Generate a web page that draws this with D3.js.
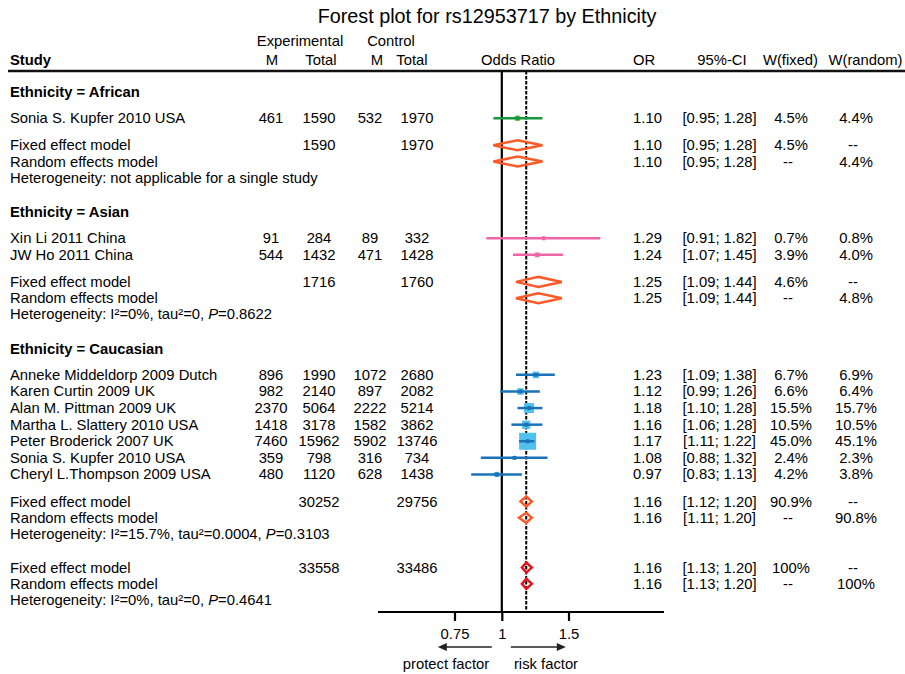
<!DOCTYPE html>
<html>
<head>
<meta charset="utf-8">
<script src="https://cdn.jsdelivr.net/npm/d3@7"></script>
<style>
  body { margin: 0; background: #fff; }
  svg { font-family: "Liberation Sans", Arial, sans-serif; font-size: 14.8px; }
</style>
</head>
<body>
<script>
// ---- data ----
const groups = ['African', 'Asian', 'Caucasian'];
const studies = ['Sonia S. Kupfer 2010 USA', 'Xin Li 2011 China', 'JW Ho 2011 China',
  'Anneke Middeldorp 2009 Dutch', 'Karen Curtin 2009 UK', 'Alan M. Pittman 2009 UK',
  'Martha L. Slattery 2010 USA', 'Peter Broderick 2007 UK', 'Sonia S. Kupfer 2010 USA',
  'Cheryl L.Thompson 2009 USA'];
const studyGroup = [0, 1, 1, 2, 2, 2, 2, 2, 2, 2];
const expM = [461, 91, 544, 896, 982, 2370, 1418, 7460, 359, 480];
const expTotal = [1590, 284, 1432, 1990, 2140, 5064, 3178, 15962, 798, 1120];
const ctrlM = [532, 89, 471, 1072, 897, 2222, 1582, 5902, 316, 628];
const ctrlTotal = [1970, 332, 1428, 2680, 2082, 5214, 3862, 13746, 734, 1438];
const oddsRatio = [1.10, 1.29, 1.24, 1.23, 1.12, 1.18, 1.16, 1.17, 1.08, 0.97];
const ciLower = [0.95, 0.91, 1.07, 1.09, 0.99, 1.10, 1.06, 1.11, 0.88, 0.83];
const ciUpper = [1.28, 1.82, 1.45, 1.38, 1.26, 1.28, 1.28, 1.22, 1.32, 1.13];
const wFixed = [4.5, 0.7, 3.9, 6.7, 6.6, 15.5, 10.5, 45.0, 2.4, 4.2];
const wRandom = [4.4, 0.8, 4.0, 6.9, 6.4, 15.7, 10.5, 45.1, 2.3, 3.8];

// summaries: one per subgroup, last one is the overall model
const fixedOR = [1.10, 1.25, 1.16, 1.16];
const fixedLower = [0.95, 1.09, 1.12, 1.13];
const fixedUpper = [1.28, 1.44, 1.20, 1.20];
const randomOR = [1.10, 1.25, 1.16, 1.16];
const randomLower = [0.95, 1.09, 1.11, 1.13];
const randomUpper = [1.28, 1.44, 1.20, 1.20];
const fixedWeight = [4.5, 4.6, 90.9, 100];
const randomWeight = [4.4, 4.8, 90.8, 100];
const hetI2 = [null, '0%', '15.7%', '0%'];
const hetTau2 = [null, '0', '0.0004', '0'];
const hetP = [null, '0.8622', '0.3103', '0.4641'];

const axisTicks = [0.75, 1, 1.5];

// ---- layout ----
const width = 905, height = 674;
const lineColor = ['#17973f', '#ef66a6', '#1a72b9'];
const boxColor = ['#8dd04a', '#f48fc2', '#50c0ee'];
const diamondColor = '#fa5a28', overallColor = '#e4141c';

const col = { study: 10, expM: 271, expTotal: 319, ctrlM: 370, ctrlTotal: 417,
  or: 647.5, ci: 719.5, wf: 791, wr: 856 };

const svg = d3.select('body').append('svg')
  .attr('width', width)
  .attr('height', height);

const x = d3.scaleLog().domain([0.75, 1.5]).range([454.5, 568.5]);
const plotLeft = 378, plotRight = 664, axisY = 612, headerLineY = 71;

// build the list of rows
const rows = [];
groups.forEach((g, gi) => {
  rows.push({ type: 'heading', text: 'Ethnicity = ' + g });
  studies.forEach((s, i) => { if (studyGroup[i] === gi) rows.push({ type: 'study', i }); });
  rows.push({ type: 'fixed', k: gi }, { type: 'random', k: gi }, { type: 'het', k: gi });
});
rows.push({ type: 'fixed', k: 3 }, { type: 'random', k: 3 }, { type: 'het', k: 3 });

// vertical spacing in "lines"
const gap = {
  heading: { study: 1.58 },
  study: { study: 1, fixed: 1.63 },
  fixed: { random: 0.98 },
  random: { het: 0.97 },
  het: { heading: 2.07, fixed: 2.03 }
};
let pos = 0;
rows.forEach((r, j) => {
  if (j > 0) pos += gap[rows[j - 1].type][r.type];
  r.line = pos;
});
const y = d3.scaleLinear().domain([0, 1]).range([92, 108.6]);

// title
svg.append('text')
  .attr('x', 487).attr('y', 23)
  .attr('text-anchor', 'middle')
  .style('font-size', '19.8px')
  .text('Forest plot for rs12953717 by Ethnicity');

// header
const header = svg.append('g');
const addHead = (txt, xx, yy, anchor, bold) => header.append('text')
  .attr('x', xx).attr('y', yy)
  .attr('text-anchor', anchor)
  .style('font-weight', bold ? 'bold' : 'normal')
  .text(txt);
addHead('Experimental', 300, 46, 'middle');
addHead('Control', 391, 46, 'middle');
addHead('Study', 10, 65, 'start', true);
addHead('M', 272, 65, 'middle');
addHead('Total', 321, 65, 'middle');
addHead('M', 377, 65, 'middle');
addHead('Total', 412, 65, 'middle');
addHead('Odds Ratio', 518, 65, 'middle');
addHead('OR', 633, 65, 'start');
addHead('95%-CI', 722, 65, 'middle');
addHead('W(fixed)', 790.5, 65, 'middle');
addHead('W(random)', 865.5, 65, 'middle');

svg.append('line')
  .attr('x1', 8).attr('x2', width)
  .attr('y1', headerLineY).attr('y2', headerLineY)
  .attr('stroke', '#111').attr('stroke-width', 2.5);

// reference lines
svg.append('line')
  .attr('x1', x(1)).attr('x2', x(1))
  .attr('y1', headerLineY).attr('y2', axisY)
  .attr('stroke', '#000').attr('stroke-width', 2.2);
svg.append('line')
  .attr('x1', x(fixedOR[3])).attr('x2', x(fixedOR[3]))
  .attr('y1', headerLineY).attr('y2', axisY)
  .attr('stroke', '#000').attr('stroke-width', 2)
  .attr('stroke-dasharray', '3.5,1.5');

// table text
const f2 = d3.format('.2f');
const ciText = (lo, hi) => `[${f2(lo)}; ${f2(hi)}]`;
const wText = w => w === 100 ? '100%' : d3.format('.1f')(w) + '%';

const cell = (txt, xx, yy, anchor) => svg.append('text')
  .attr('x', xx).attr('y', yy + 5)
  .attr('text-anchor', anchor || 'middle')
  .text(txt);

const inGroup = k => studies.map((s, i) => i).filter(i => k === 3 || studyGroup[i] === k);

rows.forEach(r => {
  const yy = y(r.line);
  if (r.type === 'heading') {
    cell(r.text, col.study, yy, 'start').style('font-weight', 'bold');
  } else if (r.type === 'study') {
    const i = r.i;
    cell(studies[i], col.study, yy, 'start');
    cell(expM[i], col.expM, yy);
    cell(expTotal[i], col.expTotal, yy);
    cell(ctrlM[i], col.ctrlM, yy);
    cell(ctrlTotal[i], col.ctrlTotal, yy);
    cell(f2(oddsRatio[i]), col.or, yy);
    cell(ciText(ciLower[i], ciUpper[i]), col.ci, yy);
    cell(wText(wFixed[i]), col.wf, yy);
    cell(wText(wRandom[i]), col.wr, yy);
  } else if (r.type === 'fixed') {
    const idx = inGroup(r.k);
    cell('Fixed effect model', col.study, yy, 'start');
    cell(d3.sum(idx, i => expTotal[i]), col.expTotal, yy);
    cell(d3.sum(idx, i => ctrlTotal[i]), col.ctrlTotal, yy);
    cell(f2(fixedOR[r.k]), col.or, yy);
    cell(ciText(fixedLower[r.k], fixedUpper[r.k]), col.ci, yy);
    cell(wText(fixedWeight[r.k]), col.wf, yy);
    cell('--', col.wr - 3, yy);
  } else if (r.type === 'random') {
    cell('Random effects model', col.study, yy, 'start');
    cell(f2(randomOR[r.k]), col.or, yy);
    cell(ciText(randomLower[r.k], randomUpper[r.k]), col.ci, yy);
    cell('--', col.wf - 3, yy);
    cell(wText(randomWeight[r.k]), col.wr, yy);
  } else if (r.type === 'het') {
    const t = cell('', col.study, yy, 'start');
    if (hetI2[r.k] === null) {
      t.text('Heterogeneity: not applicable for a single study');
    } else {
      t.append('tspan').text(`Heterogeneity: I\u00b2=${hetI2[r.k]}, tau\u00b2=${hetTau2[r.k]}, `);
      t.append('tspan').style('font-style', 'italic').text('P');
      t.append('tspan').text('=' + hetP[r.k]);
    }
  }
});

// study marks: box sized by weight, then CI line, then centre point
const boxSize = d3.scaleSqrt().domain([0, 45]).range([0, 17]);
const studyRows = rows.filter(r => r.type === 'study');

svg.append('g').selectAll('rect')
  .data(studyRows)
  .join('rect')
  .attr('x', r => x(oddsRatio[r.i]) - boxSize(wFixed[r.i]) / 2)
  .attr('y', r => y(r.line) - boxSize(wFixed[r.i]) / 2)
  .attr('width', r => boxSize(wFixed[r.i]))
  .attr('height', r => boxSize(wFixed[r.i]))
  .attr('fill', r => boxColor[studyGroup[r.i]]);

svg.append('g').selectAll('line')
  .data(studyRows)
  .join('line')
  .attr('x1', r => x(ciLower[r.i]))
  .attr('x2', r => x(ciUpper[r.i]))
  .attr('y1', r => y(r.line))
  .attr('y2', r => y(r.line))
  .attr('stroke', r => lineColor[studyGroup[r.i]])
  .attr('stroke-width', 2.5);

svg.append('g').selectAll('circle')
  .data(studyRows)
  .join('circle')
  .attr('cx', r => x(oddsRatio[r.i]))
  .attr('cy', r => y(r.line))
  .attr('r', 2.2)
  .attr('fill', r => lineColor[studyGroup[r.i]]);

// summary diamonds
const diamondRows = rows.filter(r => r.type === 'fixed' || r.type === 'random');
svg.append('g').selectAll('path')
  .data(diamondRows)
  .join('path')
  .attr('d', r => {
    const est = r.type === 'fixed' ? fixedOR[r.k] : randomOR[r.k];
    const lo = r.type === 'fixed' ? fixedLower[r.k] : randomLower[r.k];
    const hi = r.type === 'fixed' ? fixedUpper[r.k] : randomUpper[r.k];
    const yy = y(r.line), h = 5;
    return `M${x(lo)},${yy}L${x(est)},${yy - h}L${x(hi)},${yy}L${x(est)},${yy + h}Z`;
  })
  .attr('fill', 'none')
  .attr('stroke', r => r.k === 3 ? overallColor : diamondColor)
  .attr('stroke-width', 2.5)
  .attr('stroke-linejoin', 'miter');

// axis
svg.append('line')
  .attr('x1', plotLeft).attr('x2', plotRight)
  .attr('y1', axisY).attr('y2', axisY)
  .attr('stroke', '#000').attr('stroke-width', 2.2);

const axis = svg.append('g')
  .attr('transform', `translate(0,${axisY})`)
  .call(d3.axisBottom(x).tickValues(axisTicks).tickFormat(d => String(d)).tickSize(9).tickSizeOuter(0));
axis.select('.domain').remove();
axis.selectAll('.tick line').attr('stroke', '#000').attr('stroke-width', 2.2);
axis.selectAll('.tick text')
  .attr('y', 16)
  .style('font-size', '14.8px')
  .style('font-family', '"Liberation Sans", Arial, sans-serif')
  .attr('fill', '#000');

// direction arrows
const arrowY = 647;
const arrow = (x1, x2) => {
  const dir = Math.sign(x2 - x1);
  svg.append('line')
    .attr('x1', x1).attr('x2', x2 - dir * 6)
    .attr('y1', arrowY).attr('y2', arrowY)
    .attr('stroke', '#222').attr('stroke-width', 1.3);
  svg.append('path')
    .attr('d', `M${x2},${arrowY}L${x2 - dir * 9},${arrowY - 4}L${x2 - dir * 9},${arrowY + 4}Z`)
    .attr('fill', '#222');
};
arrow(x(1) - 10, x(1) - 64);
arrow(x(1) + 9, x(1) + 64);

svg.append('text').attr('x', 446).attr('y', 669).attr('text-anchor', 'middle').text('protect factor');
svg.append('text').attr('x', 546).attr('y', 669).attr('text-anchor', 'middle').text('risk factor');
</script>
</body>
</html>
